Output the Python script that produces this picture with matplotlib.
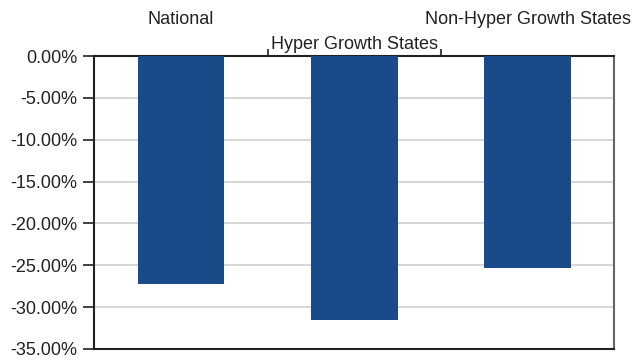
import matplotlib.pyplot as plt
from matplotlib.ticker import FuncFormatter

# Datos
categories = ['National', 'Hyper Growth States', 'Non-Hyper Growth States']
values = [-27.2, -31.6, -25.3]
yticks = [0, -5, -10, -15, -20, -25, -30, -35]

plt.rcParams['font.family'] = ['Liberation Sans', 'DejaVu Sans']

fig = plt.figure(figsize=(6.32, 3.6), dpi=100)
ax = fig.add_axes([0.149, 0.031, 0.823, 0.813])

x = list(range(len(categories)))
ax.bar(x, values, width=0.5, color='#1B4A8A', zorder=3)

ax.set_xlim(-0.5, len(categories) - 0.5)
ax.set_ylim(-35, 0)
ax.set_yticks(yticks)
ax.yaxis.set_major_formatter(FuncFormatter(lambda v, p: '%.2f%%' % v))
ax.tick_params(axis='y', labelsize=13, length=8, width=1.2, pad=4,
               direction='out', colors='#222222')
ax.grid(axis='y', color='#d0d0d0', linewidth=1.2, zorder=0)

# ticks en la parte superior, entre categorías
ax.xaxis.tick_top()
ax.set_xticks([0.5, 1.5])
ax.set_xticklabels([])
ax.tick_params(axis='x', length=5, width=1.2, direction='out', colors='#222222')

# etiquetas escalonadas
for i, name in enumerate(categories):
    off = 1.109 if i % 2 == 0 else 1.024
    ax.text(i, off, name, transform=ax.get_xaxis_transform(), ha='center',
            va='baseline', fontsize=13, color='#222222')

for side in ['left', 'top', 'bottom']:
    ax.spines[side].set_color('#222222')
    ax.spines[side].set_linewidth(1.5)
ax.spines['right'].set_color('#666666')
ax.spines['right'].set_linewidth(1.5)

fig.savefig('out.png', dpi=100)
